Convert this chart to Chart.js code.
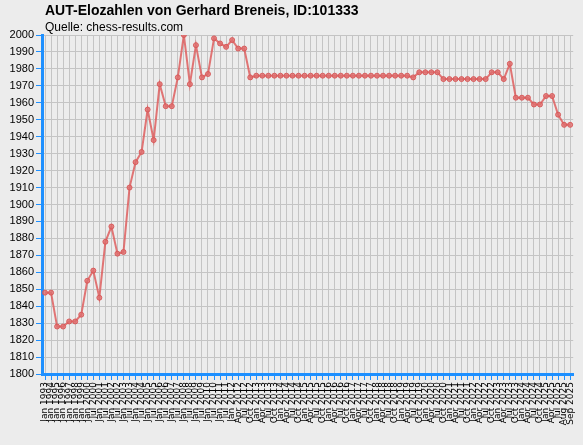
<!DOCTYPE html>
<html>
<head>
<meta charset="utf-8">
<script src="https://cdn.jsdelivr.net/npm/chart.js@4/dist/chart.umd.min.js"></script>
<style>
  body { margin: 0; background: #ececec; }
  #wrap { position: relative; width: 583px; height: 445px; }
  .title { position: absolute; left: 45px; top: 2px; font: bold 14px "Liberation Sans", Arial, sans-serif; color: #000; }
  .src { position: absolute; left: 45px; top: 20px; font: 12px "Liberation Sans", Arial, sans-serif; color: #000; }
</style>
</head>
<body>
<div id="wrap">
  <div class="title">AUT-Elozahlen von Gerhard Breneis, ID:101333</div>
  <div class="src">Quelle: chess-results.com</div>
  <canvas id="c" width="583" height="445"></canvas>
</div>
<script>
const labels = [
  "Jan 1993","Jan 1994","Jan 1995","Jan 1996","Jan 1997","Jan 1998","Jan 1999","Jan 2000",
  "Jul 2000","Jan 2001","Jul 2001","Jan 2002","Jul 2002","Jan 2003","Jul 2003","Jan 2004",
  "Jul 2004","Jan 2005","Jul 2005","Jan 2006","Jul 2006","Jan 2007","Jul 2007","Jan 2008",
  "Jul 2008","Jan 2009","Jul 2009","Jan 2010","Jul 2010","Jan 2011","Jul 2011","Jan 2012",
  "Apr 2012","Jul 2012","Oct 2012","Jan 2013","Apr 2013","Jul 2013","Oct 2013","Jan 2014",
  "Apr 2014","Jul 2014","Oct 2014","Jan 2015","Apr 2015","Jul 2015","Oct 2015","Jan 2016",
  "Apr 2016","Jul 2016","Oct 2016","Jan 2017","Apr 2017","Jul 2017","Oct 2017","Jan 2018",
  "Apr 2018","Jul 2018","Oct 2018","Jan 2019","Apr 2019","Jul 2019","Oct 2019","Jan 2020",
  "Apr 2020","Jul 2020","Oct 2020","Jan 2021","Apr 2021","Jul 2021","Oct 2021","Jan 2022",
  "Apr 2022","Jul 2022","Oct 2022","Jan 2023","Apr 2023","Jul 2023","Oct 2023","Jan 2024",
  "Apr 2024","Jul 2024","Oct 2024","Jan 2025","Apr 2025","Jul 2025","Aug 2025","Sep 2025"
];
const elo = [
  1848,1848,1828,1828,1831,1831,1835,1855,1861,1845,1878,1887,1871,1872,1910,1925,
  1931,1956,1938,1971,1958,1958,1975,2000,1971,1994,1975,1977,1998,1995,1993,1997,
  1992,1992,1975,1976,1976,1976,1976,1976,1976,1976,1976,1976,1976,1976,1976,1976,
  1976,1976,1976,1976,1976,1976,1976,1976,1976,1976,1976,1976,1976,1975,1978,1978,
  1978,1978,1974,1974,1974,1974,1974,1974,1974,1974,1978,1978,1974,1983,1963,1963,
  1963,1959,1959,1964,1964,1953,1947,1947
];
const yTicks = [1800, 2000, 10];

new Chart(document.getElementById("c"), {
  type: "line",
  data: {
    labels,
    datasets: [{
      data: elo,
      borderColor: "rgba(222,95,95,0.85)",
      backgroundColor: "rgba(222,110,110,0.8)",
      pointBorderColor: "rgba(215,85,85,0.9)",
      borderWidth: 2,
      pointRadius: 2.5,
      pointBorderWidth: 1,
      tension: 0
    }]
  },
  options: {
    responsive: false,
    animation: false,
    layout: { padding: { top: 35, right: 3, left: 0, bottom: 0 } },
    plugins: { legend: { display: false }, tooltip: { enabled: false } },
    scales: {
      x: {
        offset: true,
        afterFit: (s) => { s.height = 71; },
        grid: { color: "#c4c4c4", tickColor: "#1e90ff", tickLength: 6 },
        border: { color: "#1e90ff", width: 3 },
        ticks: {
          autoSkip: false, maxRotation: 90, minRotation: 90,
          color: "#000", font: { family: "DejaVu Sans", size: 9 }, padding: 2
        }
      },
      y: {
        min: yTicks[0], max: yTicks[1],
        afterFit: (s) => { s.width = 42; },
        grid: { color: "#c4c4c4", tickColor: "#1e90ff", tickLength: 6 },
        border: { color: "#1e90ff", width: 3 },
        ticks: {
          stepSize: yTicks[2], color: "#000", callback: (v) => String(v),
          font: { family: "Liberation Sans", size: 11 }, padding: 2
        }
      }
    }
  }
});
</script>
</body>
</html>
